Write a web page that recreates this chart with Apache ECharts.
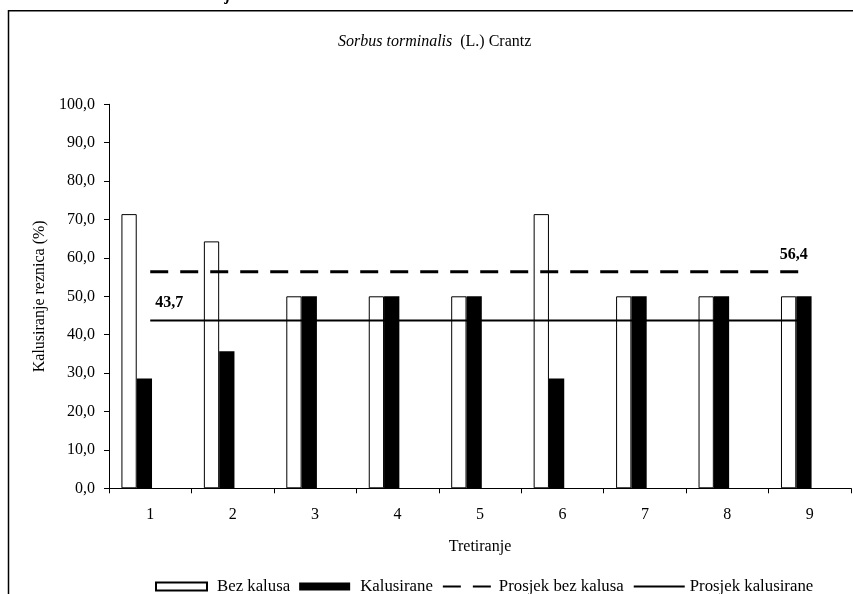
<!DOCTYPE html>
<html>
<head>
<meta charset="utf-8">
<script src="https://cdn.jsdelivr.net/npm/echarts@6/dist/echarts.min.js"></script>
<style>
  html, body { margin: 0; padding: 0; background: #fff; }
  #chart { width: 853px; height: 594px; }
</style>
</head>
<body>
<div id="chart"></div>
<script>
// ---- data ----
const categories = ['1', '2', '3', '4', '5', '6', '7', '8', '9'];
const bezKalusa = [71.4, 64.3, 50.0, 50.0, 50.0, 71.4, 50.0, 50.0, 50.0];
const kalusirane = [28.6, 35.7, 50.0, 50.0, 50.0, 28.6, 50.0, 50.0, 50.0];
const prosjekBezKalusa = [56.4, 56.4, 56.4, 56.4, 56.4, 56.4, 56.4, 56.4, 56.4];
const prosjekKalusirane = [43.7, 43.7, 43.7, 43.7, 43.7, 43.7, 43.7, 43.7, 43.7];
const seriesNames = ['Bez kalusa', 'Kalusirane', 'Prosjek bez kalusa', 'Prosjek kalusirane'];
const avgLabels = ['56,4', '43,7'];
const yMin = 0, yMax = 100, yStep = 10;
const titleItalic = 'Sorbus torminalis';
const titleRest = '  (L.) Crantz';
const xName = 'Tretiranje';
const yName = 'Kalusiranje reznica (%)';

const FONT = '"Liberation Serif", "Times New Roman", serif';
const chart = echarts.init(document.getElementById('chart'), null, { renderer: 'canvas' });

const option = {
  animation: false,
  backgroundColor: '#fff',
  textStyle: { fontFamily: FONT, color: '#000' },
  title: {
    text: '{i|' + titleItalic + '}{n|' + titleRest + '}',
    left: 338, top: 34, padding: 0,
    textStyle: {
      fontWeight: 'normal',
      rich: {
        i: { fontFamily: FONT, fontSize: 16, fontStyle: 'italic', fontWeight: 'normal', color: '#000' },
        n: { fontFamily: FONT, fontSize: 16, fontWeight: 'normal', color: '#000' }
      }
    }
  },
  grid: { left: 109, right: 2, top: 104.3, bottom: 105.7, containLabel: false },
  legend: {
    left: 155, top: 578, padding: 0,
    itemWidth: 51, itemHeight: 8, itemGap: 9,
    textStyle: { fontFamily: FONT, fontSize: 16.8, color: '#000', padding: [0, 0, 0, 5] },
    data: [
      { name: seriesNames[0], icon: 'rect' },
      { name: seriesNames[1], icon: 'rect' },
      { name: seriesNames[2], itemStyle: { opacity: 0 }, textStyle: { padding: [0, 0, 0, 0] } },
      { name: seriesNames[3], itemStyle: { opacity: 0 }, textStyle: { padding: [0, 0, 0, 0] } }
    ]
  },
  xAxis: {
    type: 'category',
    data: categories,
    boundaryGap: true,
    name: xName,
    nameLocation: 'middle',
    nameGap: 50,
    nameTextStyle: { fontFamily: FONT, fontSize: 16, color: '#000' },
    axisLine: { show: true, lineStyle: { color: '#000', width: 1 } },
    axisTick: { show: true, length: 5, alignWithLabel: false, lineStyle: { color: '#000' } },
    axisLabel: { fontFamily: FONT, fontSize: 16, color: '#000', margin: 18 },
    splitLine: { show: false }
  },
  yAxis: {
    type: 'value',
    min: yMin, max: yMax, interval: yStep,
    name: yName,
    nameLocation: 'middle',
    nameGap: 61,
    nameRotate: 90,
    nameTextStyle: { fontFamily: FONT, fontSize: 16, color: '#000' },
    axisLine: { show: true, lineStyle: { color: '#000', width: 1 } },
    axisTick: { show: true, length: 5, lineStyle: { color: '#000' } },
    axisLabel: {
      fontFamily: FONT, fontSize: 16, color: '#000', margin: 14,
      formatter: v => v.toFixed(1).replace('.', ',')
    },
    splitLine: { show: false }
  },
  series: [
    {
      name: seriesNames[0], type: 'bar', data: bezKalusa,
      barWidth: 15.3, barGap: '0%',
      itemStyle: { color: '#fff', borderColor: '#000', borderWidth: 1 },
      z: 2
    },
    {
      name: seriesNames[1], type: 'bar', data: kalusirane,
      barWidth: 15.3, barGap: '0%',
      itemStyle: { color: '#000', borderColor: '#000', borderWidth: 0 },
      z: 2
    },
    {
      name: '_spacer', type: 'bar', data: categories.map(() => '-'),
      barWidth: 27, barGap: '0%', silent: true,
      itemStyle: { color: 'transparent' }
    },
    {
      name: seriesNames[2], type: 'line', data: prosjekBezKalusa,
      symbol: 'none', showSymbol: false, z: 5,
      lineStyle: { color: '#000', width: 3, type: [18, 12] },
      itemStyle: { color: '#000' }
    },
    {
      name: seriesNames[3], type: 'line', data: prosjekKalusirane,
      symbol: 'none', showSymbol: false, z: 5,
      lineStyle: { color: '#000', width: 2, type: 'solid' },
      itemStyle: { color: '#000' }
    }
  ]
};
chart.setOption(option);

// average value labels, positioned through the axes
const pBez = chart.convertToPixel({ gridIndex: 0 }, [categories.length - 1, prosjekBezKalusa[prosjekBezKalusa.length - 1]]);
const pKal = chart.convertToPixel({ gridIndex: 0 }, [0, prosjekKalusirane[0]]);
chart.setOption({
  graphic: [
    {
      type: 'rect', silent: true, z: 0,
      shape: { x: 8.5, y: 10.75, width: 900, height: 700 },
      style: { fill: 'none', stroke: '#000', lineWidth: 1.5 }
    },
    {
      type: 'text', silent: true,
      x: 226, y: -12,
      style: { text: 'j', font: 'italic bold 16px ' + FONT, fill: '#000' }
    },
    {
      type: 'text', silent: true, z: 10,
      x: pBez[0] - 2, y: pBez[1] - 17,
      style: { text: avgLabels[0], font: 'bold 16px ' + FONT, fill: '#000', align: 'right', verticalAlign: 'middle' }
    },
    {
      type: 'text', silent: true, z: 10,
      x: pKal[0] + 5, y: pKal[1] - 18,
      style: { text: avgLabels[1], font: 'bold 16px ' + FONT, fill: '#000', align: 'left', verticalAlign: 'middle' }
    }
  ]
});
</script>
</body>
</html>
